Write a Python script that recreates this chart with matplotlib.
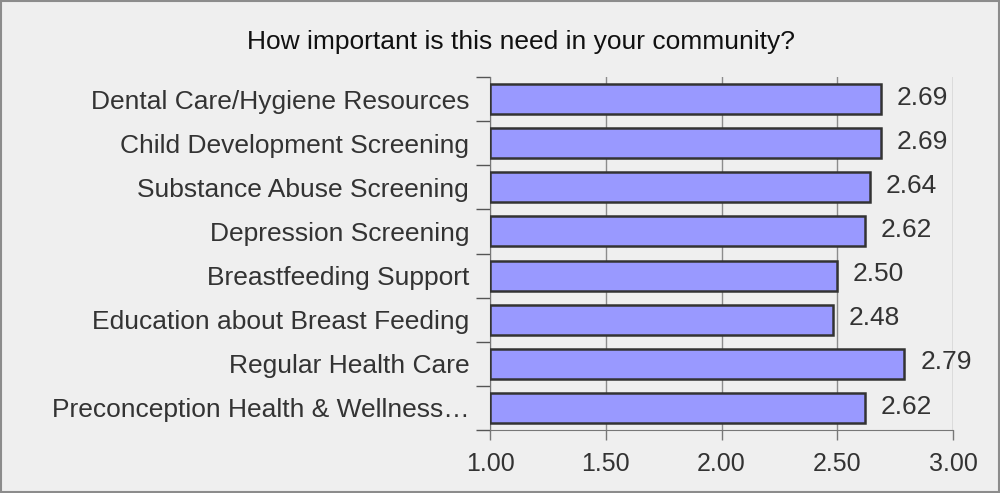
import matplotlib
matplotlib.use("Agg")
import matplotlib.pyplot as plt
from matplotlib.patches import Rectangle
from matplotlib.ticker import FixedLocator

categories = [
    "Dental Care/Hygiene Resources",
    "Child Development Screening",
    "Substance Abuse Screening",
    "Depression Screening",
    "Breastfeeding Support",
    "Education about Breast Feeding",
    "Regular Health Care",
    "Preconception Health & Wellness\u2026",
]
values = [2.69, 2.69, 2.64, 2.62, 2.50, 2.48, 2.79, 2.62]
value_labels = ["2.69", "2.69", "2.64", "2.62", "2.50", "2.48", "2.79", "2.62"]
xticks = [1.00, 1.50, 2.00, 2.50, 3.00]
xtick_labels = ["1.00", "1.50", "2.00", "2.50", "3.00"]
title = "How important is this need in your community?"

plt.rcParams['font.family'] = ['Liberation Sans', 'DejaVu Sans']
bg = "#EFEFEF"
fig = plt.figure(figsize=(10, 4.93), dpi=100, facecolor=bg)
fig.patches.append(Rectangle((0.001, 0.002), 0.998, 0.996, transform=fig.transFigure,
                             fill=False, edgecolor="#8C8C8C", linewidth=1.5))
ax = fig.add_axes([0.490, 1 - 430 / 493, 0.463, (430 - 77) / 493])
ax.set_facecolor(bg)

n = len(categories)
ypos = list(range(n))
ax.barh(ypos, [v - 1.0 for v in values], left=1.0, height=0.68,
        color="#9999FF", edgecolor="#333333", linewidth=1.8, zorder=3)
for y, v, lab in zip(ypos, values, value_labels):
    ax.text(v + 0.068, y - 0.03, lab, va="center", ha="left", fontsize=19, color="#333333", zorder=4)

ax.set_xlim(1.0, 3.0)
ax.set_ylim(n - 0.5, -0.5)
ax.set_xticks(xticks)
ax.set_xticklabels(xtick_labels, fontsize=18, color="#333333")
ax.set_yticks(ypos)
ax.set_yticklabels(categories, fontsize=19, color="#333333")
ax.yaxis.set_minor_locator(FixedLocator([i + 0.5 for i in range(-1, n)]))
ax.tick_params(axis="y", which="major", length=0, pad=15)
ax.tick_params(axis="y", which="minor", length=10, color="#555555", width=1)
ax.tick_params(axis="x", which="major", length=7, color="#777777", width=1, pad=9)
ax.grid(axis="x", color="#8C8C8C", linewidth=1, zorder=0)
for s in ["top", "right"]:
    ax.spines[s].set_visible(False)
ax.spines["left"].set_color("#777777")
ax.spines["bottom"].set_color("#777777")
fig.text(0.521, 1 - 42 / 493, title, ha="center", va="center", fontsize=19, color="#111111")

fig.savefig("out.png", dpi=100, facecolor=bg)
